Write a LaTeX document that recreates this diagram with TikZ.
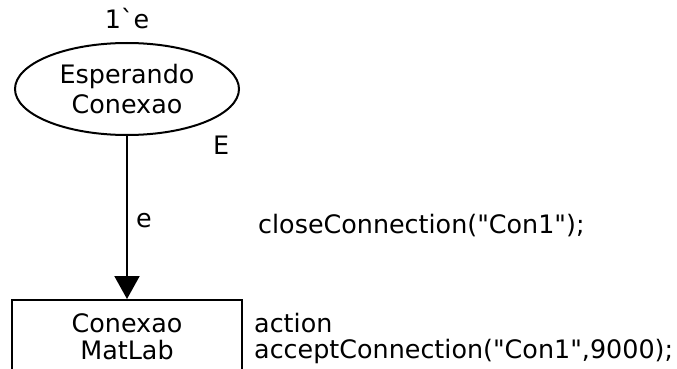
\documentclass[tikz,border=0pt]{standalone}
\usepackage{fontspec}
\setmainfont{DejaVu Sans}
\usetikzlibrary{shapes.geometric,arrows.meta}
\newcommand{\dq}{\textquotedbl}
\begin{document}
\begin{tikzpicture}[x=1pt,y=-1pt,
  every node/.style={font=\fontsize{25.4}{30}\selectfont, inner sep=0pt},
  place/.style={ellipse, draw, line width=2pt, minimum width=224pt, minimum height=92pt, align=center},
  trans/.style={rectangle, draw, line width=2pt, minimum width=230pt, minimum height=74pt, align=center,
    font=\fontsize{25.4}{26.5}\selectfont},
  inscr/.style={anchor=base west},
  arc/.style={line width=2pt, -{Triangle[length=23pt,width=25pt]}}]
  \useasboundingbox (0,0) rectangle (677,369);
  \begin{scope}
    \clip (0,0) rectangle (677,369);
    % place and transition
    \node[place] (wait) at (127,89) {Esperando\\Conexao};
    \node[trans] (conn) at (127,337) {Conexao\\MatLab};
    % arc from the place to the transition
    \draw[arc] (wait.south) -- (conn.north);
  \end{scope}
  % inscriptions
  \node[anchor=base] (init) at (127,29) {1\textasciigrave e};
  \node[inscr] (colset) at (213,154) {E};
  \node[inscr] (arcexp) at (136,227) {e};
  \node[inscr] (close) at (258,233) {closeConnection(\dq Con1\dq);};
  \node[inscr] (act) at (254,332) {action};
  \node[inscr] (accept) at (254,358) {acceptConnection(\dq Con1\dq,9000);};
\end{tikzpicture}
\end{document}
